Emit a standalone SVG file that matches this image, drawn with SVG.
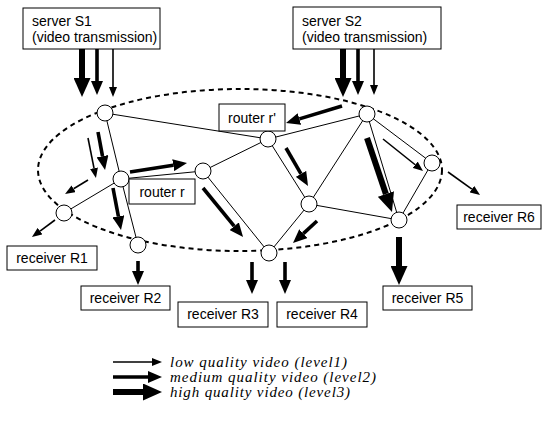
<svg xmlns="http://www.w3.org/2000/svg" width="542" height="423" viewBox="0 0 542 423">
<style>
.bg{fill:#fff}
.edge{stroke:#000;stroke-width:1;fill:none}
.node{fill:#fff;stroke:#000;stroke-width:1}
.box{fill:#fff;stroke:#000;stroke-width:1}
.lbl{font-family:"Liberation Sans",Arial,sans-serif;font-size:14px;fill:#000}
.lbc{font-family:"Liberation Sans",Arial,sans-serif;font-size:14px;fill:#000;text-anchor:middle}
.leg{font-family:"Liberation Serif","Times New Roman",serif;font-size:15px;font-style:italic;fill:#000}
.thin{stroke:#000;stroke-width:1.6;fill:none;marker-end:url(#mthin)}
.med{stroke:#000;stroke-width:3.6;fill:none;marker-end:url(#mmed)}
.thick{stroke:#000;stroke-width:6;fill:none;marker-end:url(#mthick)}
</style>
<defs>
<marker id="mthin" markerUnits="userSpaceOnUse" viewBox="0 0 10 8" markerWidth="10" markerHeight="8" refX="0" refY="4" orient="auto"><path d="M0,0 L10,4 L0,8 Z" fill="#000"/></marker>
<marker id="mmed" markerUnits="userSpaceOnUse" viewBox="0 0 14 12" markerWidth="14" markerHeight="12" refX="0" refY="6" orient="auto"><path d="M0,0 L14,6 L0,12 Z" fill="#000"/></marker>
<marker id="mthick" markerUnits="userSpaceOnUse" viewBox="0 0 19 17" markerWidth="19" markerHeight="17" refX="0" refY="8.5" orient="auto"><path d="M0,0 L19,8.5 L0,17 Z" fill="#000"/></marker>
</defs>
<rect class="bg" x="0" y="0" width="542" height="423"/>
<ellipse id="area" cx="240" cy="170" rx="202" ry="81" fill="none" stroke="#000" stroke-width="2" stroke-dasharray="5 4"/>
<g id="connectors">
<line class="edge" x1="105" y1="113" x2="121" y2="179"/>
<line class="edge" x1="105" y1="113" x2="268" y2="139"/>
<line class="edge" x1="121" y1="179" x2="64" y2="213"/>
<line class="edge" x1="121" y1="179" x2="138" y2="245"/>
<line class="edge" x1="121" y1="179" x2="203" y2="171"/>
<line class="edge" x1="203" y1="171" x2="268" y2="139"/>
<line class="edge" x1="203" y1="171" x2="269" y2="253"/>
<line class="edge" x1="268" y1="139" x2="309" y2="204"/>
<line class="edge" x1="268" y1="139" x2="367" y2="114"/>
<line class="edge" x1="309" y1="204" x2="269" y2="253"/>
<line class="edge" x1="309" y1="204" x2="367" y2="114"/>
<line class="edge" x1="309" y1="204" x2="399" y2="220"/>
<line class="edge" x1="367" y1="114" x2="399" y2="220"/>
<line class="edge" x1="367" y1="114" x2="432" y2="163"/>
<line class="edge" x1="432" y1="163" x2="399" y2="220"/>
</g>
<g id="nodeA"><circle class="node" cx="105" cy="113" r="8"/></g>
<g id="nodeB"><circle class="node" cx="121" cy="179" r="8"/></g>
<g id="nodeC"><circle class="node" cx="64" cy="213" r="8"/></g>
<g id="nodeD"><circle class="node" cx="138" cy="245" r="8"/></g>
<g id="nodeE"><circle class="node" cx="203" cy="171" r="8"/></g>
<g id="nodeF"><circle class="node" cx="268" cy="139" r="8"/></g>
<g id="nodeG"><circle class="node" cx="309" cy="204" r="8"/></g>
<g id="nodeH"><circle class="node" cx="269" cy="253" r="8"/></g>
<g id="nodeI"><circle class="node" cx="367" cy="114" r="8"/></g>
<g id="nodeJ"><circle class="node" cx="432" cy="163" r="8"/></g>
<g id="nodeK"><circle class="node" cx="399" cy="220" r="8"/></g>
<g id="serverS1"><rect class="box" x="23" y="8" width="137" height="41"/><text class="lbl" x="32" y="26">server S1</text><text class="lbl" x="32" y="42">(video transmission)</text></g>
<g id="serverS2"><rect class="box" x="293" y="7" width="148" height="42"/><text class="lbl" x="302" y="26">server S2</text><text class="lbl" x="302" y="42">(video transmission)</text></g>
<g id="routerR"><rect class="box" x="129" y="179" width="66" height="25"/><text class="lbc" x="162" y="197">router r</text></g>
<g id="routerR2"><rect class="box" x="219" y="104" width="66" height="27"/><text class="lbc" x="252" y="123">router r'</text></g>
<g id="R1"><rect class="box" x="7" y="246" width="90" height="24"/><text class="lbc" x="52" y="263">receiver R1</text></g>
<g id="R2"><rect class="box" x="81" y="286" width="89" height="24"/><text class="lbc" x="125.5" y="303">receiver R2</text></g>
<g id="R3"><rect class="box" x="178" y="302" width="90" height="25"/><text class="lbc" x="223" y="319">receiver R3</text></g>
<g id="R4"><rect class="box" x="277" y="302" width="90" height="25"/><text class="lbc" x="322" y="319">receiver R4</text></g>
<g id="R5"><rect class="box" x="383" y="286" width="89" height="24"/><text class="lbc" x="427.5" y="303">receiver R5</text></g>
<g id="R6"><rect class="box" x="457" y="205" width="84" height="24"/><text class="lbc" x="499" y="222">receiver R6</text></g>
<g id="flows">
<line class="thick" x1="82" y1="49" x2="82" y2="78"/>
<line class="med" x1="97" y1="49" x2="97" y2="81"/>
<line class="thin" x1="113" y1="49" x2="113" y2="87"/>
<line class="thick" x1="343" y1="49" x2="343" y2="78"/>
<line class="med" x1="358" y1="49" x2="358" y2="81"/>
<line class="thin" x1="374" y1="49" x2="374" y2="85"/>
<line class="med" x1="342" y1="106" x2="299.4" y2="118.9"/>
<line class="thin" x1="88" y1="138" x2="94" y2="168.2"/>
<line class="med" x1="98" y1="132" x2="102.5" y2="156.2"/>
<line class="thin" x1="88" y1="180" x2="73.6" y2="188.8"/>
<line class="thin" x1="55" y1="220" x2="40" y2="231.1"/>
<line class="med" x1="130" y1="172" x2="173.2" y2="165.2"/>
<line class="med" x1="113" y1="188" x2="118.4" y2="216.3"/>
<line class="med" x1="138" y1="261" x2="138" y2="271"/>
<line class="med" x1="203" y1="188" x2="234.2" y2="226.2"/>
<line class="med" x1="286" y1="148" x2="301" y2="173.9"/>
<line class="med" x1="317" y1="221" x2="303.3" y2="233.6"/>
<line class="med" x1="252" y1="262" x2="252" y2="280"/>
<line class="med" x1="285" y1="262" x2="285" y2="280"/>
<line class="thick" x1="367" y1="138" x2="385.9" y2="194"/>
<line class="thin" x1="383" y1="139" x2="415.2" y2="164.75"/>
<line class="thin" x1="448" y1="172" x2="471.9" y2="189.2"/>
<line class="thick" x1="399" y1="237" x2="399" y2="266"/>
</g>
<g id="legend">
<line class="thin" x1="113" y1="362" x2="152" y2="362"/>
<line class="med" x1="113" y1="377" x2="148" y2="377"/>
<line class="thick" x1="113" y1="392" x2="143" y2="392"/>
<text class="leg" x="170" y="367" textLength="177" lengthAdjust="spacing">low quality video (level1)</text>
<text class="leg" x="170" y="382" textLength="206" lengthAdjust="spacing">medium quality video (level2)</text>
<text class="leg" x="170" y="397" textLength="180" lengthAdjust="spacing">high quality video (level3)</text>
</g>
</svg>
